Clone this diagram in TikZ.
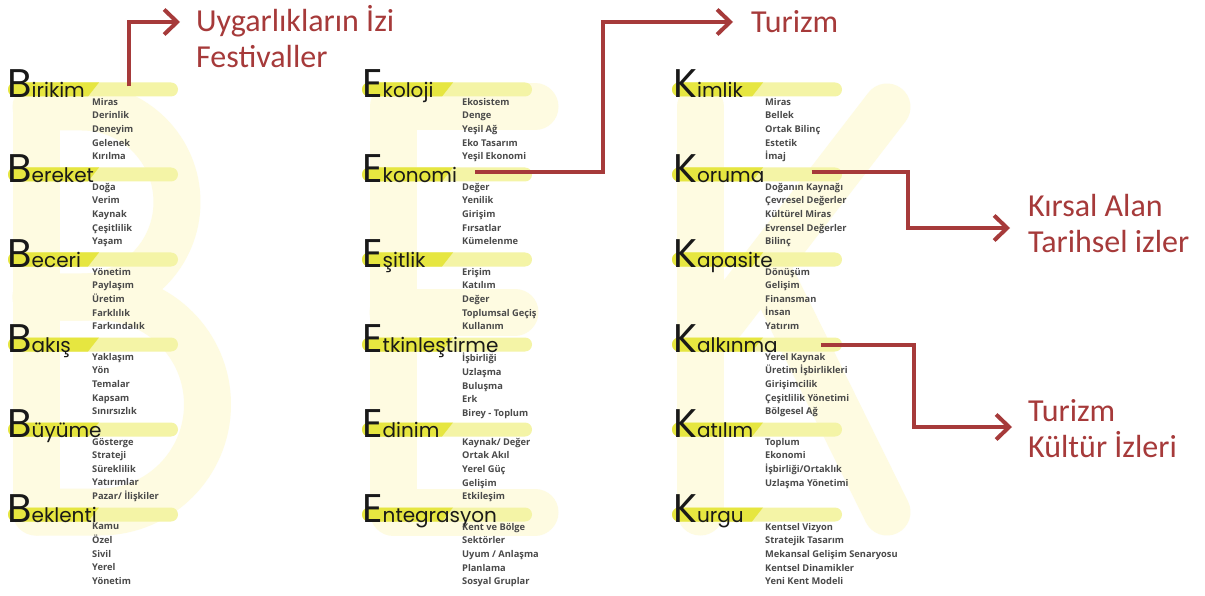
\documentclass[tikz,border=0pt]{standalone}
\usepackage{fontspec}
\setmainfont{Open Sans}
\newfontfamily\headfont{Poppins}
\newfontfamily\notefont{Carlito}
\usetikzlibrary{positioning,arrows.meta,calc}

\definecolor{bekpale}{HTML}{FEFBE1}
\definecolor{bandpale}{HTML}{F4F4A6}
\definecolor{bandbright}{HTML}{E6E640}
\definecolor{linkred}{HTML}{A63A3A}
\definecolor{itemgray}{HTML}{4A4A4A}

\newcommand{\bekinitial}[1]{{\fontsize{40}{40}\selectfont #1}}

\begin{document}
\begin{tikzpicture}[
    x=1pt, y=-1pt,
    head/.style={font=\headfont\fontsize{20}{20}\selectfont, text=black!90, inner sep=0pt, anchor=base west},
    items/.style={font=\bfseries\fontsize{9.3}{13.6}\selectfont, text=itemgray, align=left, inner sep=0pt, anchor=north west, execute at begin node={\rule{0pt}{9pt}}},
    note/.style={font=\notefont\fontsize{32}{36}\selectfont, text=linkred, align=left, inner sep=0pt, anchor=west},
    link/.style={draw=linkred, line width=4pt, -{Straight Barb[length=13pt,width=25pt]}},
    bigletter/.style={draw=bekpale, line width=47pt, line cap=round, line join=round}
]
\fill[white] (0,0) rectangle (1205,596);
\useasboundingbox (0,0) rectangle (1205,596);

% Background letters B E K
\draw[bigletter] (36,107) -- (36,512);
\draw[bigletter] (36,107) -- (82,107) arc[start angle=-90,end angle=90,radius=95] -- (36,297);
\draw[bigletter] (36,297) -- (100,297) arc[start angle=-90,end angle=90,radius=107.5] -- (36,512);
\draw[bigletter] (535,107) -- (393,107) -- (393,512) -- (535,512);
\draw[bigletter] (393,312) -- (515,312);
\draw[bigletter] (700,107) -- (700,512);
\draw[bigletter] (887,107) -- (723,320);
\draw[bigletter] (775,285) -- (887,512);

% Yellow bands
\foreach \bx in {8,362,672}
  \foreach \by in {89.5,174.5,259.5,344.5,429.5,514.5} {
    \fill[bandpale, rounded corners=7pt] (\bx,\by-7) rectangle ++(170,14);
    \fill[bandbright] (\bx+80,\by+7) -- (\bx+7,\by+7)
      arc[start angle=90,end angle=270,radius=7] -- (\bx+91,\by-7) -- cycle;
  }

% Column B
\node[head] (birikim) at (7,97.5) {\bekinitial{B}irikim};
\node[head] (bereket) at (7,182.5) {\bekinitial{B}ereket};
\node[head] (beceri) at (7,267.5) {\bekinitial{B}eceri};
\node[head] (bakis) at (7,352.5) {\bekinitial{B}akış};
\node[head] (buyume) at (7,437.5) {\bekinitial{B}üyüme};
\node[head] (beklenti) at (7,522.5) {\bekinitial{B}eklenti};

\node[items] (birikim-list) at (92,98) {Miras\\Derinlik\\Deneyim\\Gelenek\\Kırılma};
\node[items] (bereket-list) at (92,183) {Doğa\\Verim\\Kaynak\\Çeşitlilik\\Yaşam};
\node[items] (beceri-list) at (92,268) {Yönetim\\Paylaşım\\Üretim\\Farklılık\\Farkındalık};
\node[items] (bakis-list) at (92,353) {Yaklaşım\\Yön\\Temalar\\Kapsam\\Sınırsızlık};
\node[items] (buyume-list) at (92,438) {Gösterge\\Strateji\\Süreklilik\\Yatırımlar\\Pazar/ İlişkiler};
\node[items] (beklenti-list) at (92,523) {Kamu\\Özel\\Sivil\\Yerel\\Yönetim};

% Column E
\node[head] (ekoloji) at (362,97.5) {\bekinitial{E}koloji};
\node[head] (ekonomi) at (362,182.5) {\bekinitial{E}konomi};
\node[head] (esitlik) at (362,267.5) {\bekinitial{E}şitlik};
\node[head] (etkinlestirme) at (362,352.5) {\bekinitial{E}tkinleştirme};
\node[head] (edinim) at (362,437.5) {\bekinitial{E}dinim};
\node[head] (entegrasyon) at (362,522.5) {\bekinitial{E}ntegrasyon};

\node[items] (ekoloji-list) at (462,98) {Ekosistem\\Denge\\Yeşil Ağ\\Eko Tasarım\\Yeşil Ekonomi};
\node[items] (ekonomi-list) at (462,183) {Değer\\Yenilik\\Girişim\\Fırsatlar\\Kümelenme};
\node[items] (esitlik-list) at (462,268) {Erişim\\Katılım\\Değer\\Toplumsal Geçiş\\Kullanım};
\node[items] (etkinlestirme-list) at (462,353) {İşbirliği\\Uzlaşma\\Buluşma\\Erk\\Birey - Toplum};
\node[items] (edinim-list) at (462,438) {Kaynak/ Değer\\Ortak Akıl\\Yerel Güç\\Gelişim\\Etkileşim};
\node[items] (entegrasyon-list) at (462,523) {Kent ve Bölge\\Sektörler\\Uyum / Anlaşma\\Planlama\\Sosyal Gruplar};

% Column K
\node[head] (kimlik) at (673,97.5) {\bekinitial{K}imlik};
\node[head] (koruma) at (673,182.5) {\bekinitial{K}oruma};
\node[head] (kapasite) at (673,267.5) {\bekinitial{K}apasite};
\node[head] (kalkinma) at (673,352.5) {\bekinitial{K}alkınma};
\node[head] (katilim) at (673,437.5) {\bekinitial{K}atılım};
\node[head] (kurgu) at (673,522.5) {\bekinitial{K}urgu};

\node[items] (kimlik-list) at (765,98) {Miras\\Bellek\\Ortak Bilinç\\Estetik\\İmaj};
\node[items] (koruma-list) at (765,183) {Doğanın Kaynağı\\Çevresel Değerler\\Kültürel Miras\\Evrensel Değerler\\Bilinç};
\node[items] (kapasite-list) at (765,268) {Dönüşüm\\Gelişim\\Finansman\\İnsan\\Yatırım};
\node[items] (kalkinma-list) at (765,353) {Yerel Kaynak\\Üretim İşbirlikleri\\Girişimcilik\\Çeşitlilik Yönetimi\\Bölgesel Ağ};
\node[items] (katilim-list) at (765,438) {Toplum\\Ekonomi\\İşbirliği/Ortaklık\\Uzlaşma Yönetimi};
\node[items] (kurgu-list) at (765,523) {Kentsel Vizyon\\Stratejik Tasarım\\Mekansal Gelişim Senaryosu\\Kentsel Dinamikler\\Yeni Kent Modeli};

% Outcomes
\node[note] (uygar) at (196,36.5) {Uygarlıkların İzi\\Festivaller};
\node[note] (turizm) at (751,22) {Turizm};
\node[note] (kirsal) at (1028,224) {Kırsal Alan\\Tarihsel izler};
\node[note] (kultur) at (1028,429) {Turizm\\Kültür İzleri};

% Connections
\draw[link] ([shift={(44,-11)}]birikim.base east) |- ([shift={(-16,-14.5)}]uygar.west);
\draw[link] ([shift={(18,-10)}]ekonomi.base east) -| ([xshift=-148]turizm.west) -- ([xshift=-18]turizm.west);
\draw[link] ([shift={(47,-10)}]koruma.base east) -| ([shift={(-120,4)}]kirsal.west) -- ([shift={(-18,4)}]kirsal.west);
\draw[link] ([shift={(43,-8)}]kalkinma.base east) -| ([shift={(-114,-2)}]kultur.west) -- ([shift={(-16,-2)}]kultur.west);

\end{tikzpicture}
\end{document}
